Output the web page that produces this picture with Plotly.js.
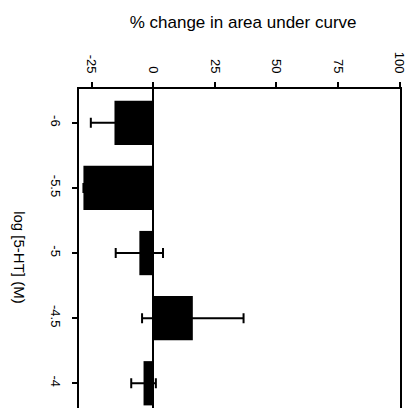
<!DOCTYPE html>
<html>
<head>
<meta charset="utf-8">
<script src="https://cdn.plot.ly/plotly-3.0.1.min.js"></script>
<style>
  html, body { margin: 0; padding: 0; background: #fff; }
  #chart { width: 417px; height: 408px; }
</style>
</head>
<body>
<div id="chart"></div>
<script>
// log concentration of 5-HT (M)
const logConc = [-6, -5.5, -5, -4.5, -4];
// mean % change in area under curve, with its error
const pctChange = [-15.7, -28.3, -5.6, 16.1, -3.9];
const pctError = [9.6, 0, 9.6, 20.6, 5.0];

// axis ticks
const concTickVals = [-6, -5.5, -5, -4.5, -4];
const concTickText = ['-6', '-5.5', '-5', '-4.5', '-4'];
const pctTickVals = [-25, 0, 25, 50, 75, 100];
const pctTickText = ['-25', '0', '25', '50', '75', '100'];

const FONT = '"Liberation Sans Narrow", "Arial Narrow", "Liberation Sans", Arial, sans-serif';
const TITLE_FONT = '"Liberation Sans", Arial, sans-serif';

const trace = {
  type: 'bar',
  orientation: 'h',
  x: pctChange,
  y: logConc,
  width: 0.34,
  marker: { color: '#000', line: { width: 0 } },
  error_x: {
    type: 'data',
    array: pctError,
    visible: true,
    color: '#000',
    thickness: 2,
    width: 5
  },
  hoverinfo: 'skip'
};

const layout = {
  width: 417,
  height: 408,
  margin: { l: 79, r: 17, t: 89, b: 0 },
  paper_bgcolor: '#fff',
  plot_bgcolor: '#fff',
  showlegend: false,
  font: { family: FONT, color: '#000', size: 13 },
  title: {
    text: '% change in area under curve',
    font: { family: TITLE_FONT, size: 17, color: '#000' },
    xref: 'container', yref: 'container',
    x: 0.583, y: 0.946,
    xanchor: 'center', yanchor: 'middle'
  },
  xaxis: {
    side: 'top',
    range: [-30.1, 100.2],
    tickvals: pctTickVals,
    ticktext: pctTickText,
    tickangle: 90,
    ticks: 'outside',
    ticklen: 5,
    tickwidth: 2,
    tickcolor: '#000',
    showline: true,
    linecolor: '#000',
    linewidth: 2,
    mirror: false,
    showgrid: false,
    zeroline: true,
    zerolinecolor: '#000',
    zerolinewidth: 1.5,
    ticklabelstandoff: 4,
    tickfont: { family: FONT, size: 13, color: '#000' }
  },
  yaxis: {
    range: [-3.81, -6.26],
    tickvals: concTickVals,
    ticktext: concTickText,
    tickangle: 90,
    ticks: 'outside',
    ticklen: 5,
    tickwidth: 2,
    tickcolor: '#000',
    showline: true,
    linecolor: '#000',
    linewidth: 2,
    mirror: true,
    showgrid: false,
    zeroline: false,
    ticklabelstandoff: 5,
    tickfont: { family: FONT, size: 13, color: '#000' }
  },
  annotations: [{
    text: 'log [5-HT] (M)',
    xref: 'paper', yref: 'paper',
    x: -0.184, y: 0.47,
    xanchor: 'center', yanchor: 'middle',
    textangle: 90,
    showarrow: false,
    font: { family: TITLE_FONT, size: 15, color: '#000' }
  }]
};

Plotly.newPlot('chart', [trace], layout, { displayModeBar: false, staticPlot: true });
</script>
</body>
</html>
